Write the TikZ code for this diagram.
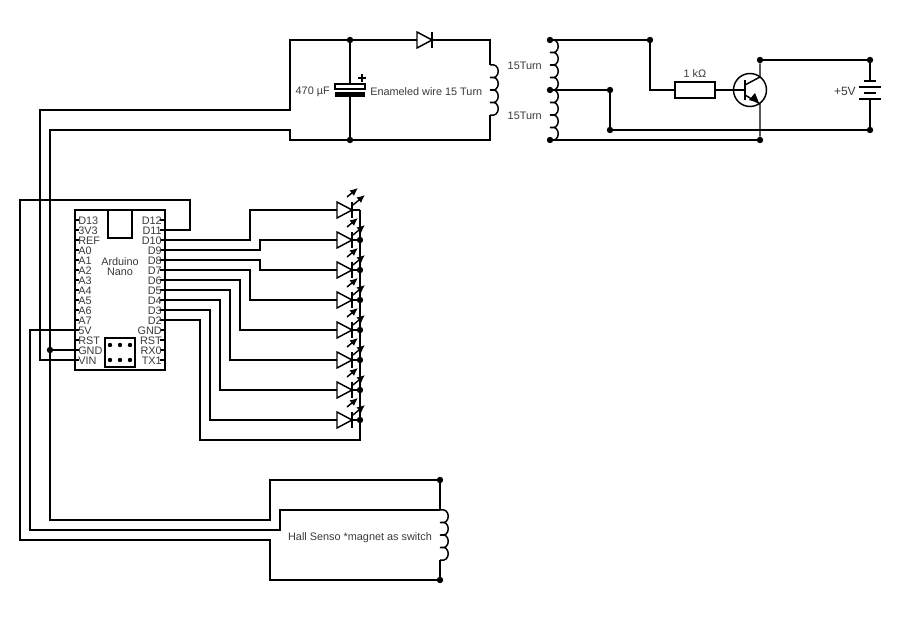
\documentclass[tikz,border=0pt]{standalone}
\usepackage{fontspec}
\setmainfont{Liberation Sans}
\usetikzlibrary{arrows.meta}
\colorlet{fg}{black}
\colorlet{bg}{white}
\definecolor{lbl}{HTML}{3A3A3A}
\tikzset{
	wire/.style={draw=fg,line width=1.1pt,line join=miter},
	dot/.style={circle,fill=fg,inner sep=0pt,minimum size=4.8pt},
	lbl/.style={text=lbl,font=\fontsize{8.15pt}{7.5pt}\selectfont,inner sep=0pt,yshift=-0.9pt},
	coil/.pic={
		\draw[wire] (0,0) .. controls (11,-3) and (11,15.5) .. (0,12.5)
			.. controls (11,9.5) and (11,28) .. (0,25)
			.. controls (11,22) and (11,40.5) .. (0,37.5)
			.. controls (11,34.5) and (11,53) .. (0,50);
	},
	ledsym/.pic={
		\draw[wire,fill=bg] (-15,-8) -- (0,0) -- (-15,8) -- cycle;
		\draw[wire] (0,-8) -- (0,8);
		\draw[wire,-{Latex[length=6pt,width=5.5pt]}] (-5,-13) -- (6,-22);
		\draw[wire,-{Latex[length=6pt,width=5.5pt]}] (1,-5) -- (13,-15);
	}
}

\begin{document}
\begin{tikzpicture}[x=0.75pt,y=-0.75pt]
	\useasboundingbox (0,0) rectangle (900,620);

	% nano board
	\draw[wire] (75,210) rectangle (165,370);
	\draw[wire] (108,210) rectangle (132,238);
	\draw[wire] (105,338) rectangle (135,367);
	\foreach \px in {110,120,130} {
		\fill[fg] (\px,345) circle[radius=2.2];
		\fill[fg] (\px,360) circle[radius=2.2];
	}
	\node[lbl,align=center] (nano) at (120,265) {Arduino\\Nano};
	\foreach \pin [count=\i from 1] in {D13,3V3,REF,A0,A1,A2,A3,A4,A5,A6,A7,5V,RST,GND,VIN} {
		\coordinate (L\pin) at (75,{210+10*\i});
		\draw[wire] (L\pin) -- ++(4,0);
		\node[lbl,anchor=west] (lbl-L\pin) at (78,{210+10*\i}) {\pin};
	}
	\foreach \pin [count=\i from 1] in {D12,D11,D10,D9,D8,D7,D6,D5,D4,D3,D2,GND,RST,RX0,TX1} {
		\coordinate (R\pin) at (165,{210+10*\i});
		\draw[wire] (R\pin) -- ++(-5,0);
		\node[lbl,anchor=east] (lbl-R\pin) at (162,{210+10*\i}) {\pin};
	}

	% leds
	\foreach \i/\ly in {1/210,2/240,3/270,4/300,5/330,6/360,7/390,8/420} {
		\coordinate (led\i) at (337,\ly);
		\coordinate (bar\i) at (352,\ly);
		\pic at (bar\i) {ledsym};
	}
	\coordinate (rail1) at (360,210);
	\foreach \i/\ly in {2/240,3/270,4/300,5/330,6/360,7/390,8/420} {
		\node[dot] (rail\i) at (360,\ly) {};
		\draw[wire] (bar\i) -- (rail\i);
	}
	\draw[wire] (bar1) -- (rail1);
	\coordinate (railend) at (360,440);
	\draw[wire] (rail1) -- (railend) -- (200,440) -- (200,320) -- (RD2);
	\draw[wire] (RD10) -- (250,240) -- (250,210) -- (led1);
	\draw[wire] (RD9) -- (260,250) -- (260,240) -- (led2);
	\draw[wire] (RD8) -- (260,260) -- (260,270) -- (led3);
	\draw[wire] (RD7) -- (250,270) -- (250,300) -- (led4);
	\draw[wire] (RD6) -- (240,280) -- (240,330) -- (led5);
	\draw[wire] (RD5) -- (230,290) -- (230,360) -- (led6);
	\draw[wire] (RD4) -- (220,300) -- (220,390) -- (led7);
	\draw[wire] (RD3) -- (210,310) -- (210,420) -- (led8);

	% top circuit
	\node[dot] (captop) at (350,40) {};
	\node[dot] (capbot) at (350,140) {};
	\coordinate (dioa) at (417,40);
	\coordinate (diok) at (432,40);
	\coordinate (ctop) at (490,65);
	\coordinate (cbot) at (490,115);
	\draw[wire] (dioa) -- (captop) -- (290,40) -- (290,110) -- (40,110) -- (40,360) -- (LVIN);
	\draw[wire] (diok) -- (490,40) -- (ctop);
	\draw[wire] (cbot) -- (490,140) -- (capbot);
	\draw[wire] (capbot) -- (290,140) -- (290,130) -- (50,130) -- (50,520) -- (270,520) -- (270,480) -- (440,480);
	\draw[wire] (417,32) -- (432,40) -- (417,48) -- cycle;
	\draw[wire] (432,32) -- (432,48);
	\pic at (ctop) {coil};
	\draw[wire] (captop) -- (350,84);
	\draw[wire] (capbot) -- (350,92);
	\draw[wire] (335,84) rectangle (365,89);
	\fill[fg] (335,92) rectangle (365,97);
	\draw[wire] (358,78) -- (366,78) (362,74) -- (362,82);
	\node[lbl,anchor=east] (caplbl) at (330,91) {470 µF};
	\node[lbl,anchor=west] (wirelbl) at (370,90) {Enameled wire 15 Turn};

	% centre tapped coil
	\node[dot] (tapa) at (550,40) {};
	\node[dot] (tapb) at (550,90) {};
	\node[dot] (tapc) at (550,140) {};
	\pic at (tapa) {coil};
	\pic at (tapb) {coil};
	\node[lbl,anchor=east] (turna) at (542,65) {15Turn};
	\node[lbl,anchor=east] (turnb) at (542,115) {15Turn};
	\node[dot] (j1) at (650,40) {};
	\node[dot] (j2) at (610,90) {};
	\node[dot] (j3) at (610,130) {};
	\node[dot] (j4) at (760,140) {};
	\node[dot] (j5) at (760,60) {};
	\node[dot] (j6) at (870,60) {};
	\node[dot] (j7) at (870,130) {};
	\coordinate (resl) at (675,90);
	\coordinate (resr) at (715,90);
	\coordinate (base) at (745,90);
	\draw[wire] (tapa) -- (j1) -- (650,90) -- (resl);
	\draw[wire] (675,82) rectangle (715,98);
	\node[lbl] (reslbl) at (695,72) {1 kΩ};
	\draw[wire] (resr) -- (base);
	\draw[wire] (tapb) -- (j2) -- (j3) -- (j7);
	\draw[wire] (tapc) -- (j4);

	% transistor
	\draw[wire] (750,90) circle[radius=16.5];
	\draw[wire] (745,80) -- (745,100);
	\draw[wire] (j5.south) -- (760,77) -- (745,85);
	\draw[wire] (j4.north) -- (760,104) -- (745,95);
	\fill[fg] (759,103) -- (749,100) -- (755,93) -- cycle;

	% battery
	\draw[wire] (j6) -- (870,81);
	\draw[wire] (864,81) -- (876,81);
	\draw[wire] (859,87) -- (881,87);
	\draw[wire] (864,93) -- (876,93);
	\draw[wire] (859,99) -- (881,99);
	\draw[wire] (870,99) -- (j7);
	\draw[wire] (j5) -- (j6);
	\node[lbl,anchor=east,font=\fontsize{9pt}{10pt}\selectfont] (batlbl) at (856,90) {+5V};

	% hall sensor
	\node[dot] (halltop) at (440,480) {};
	\node[dot] (hallbot) at (440,580) {};
	\coordinate (hallc) at (440,510);
	\coordinate (halld) at (440,560);
	\pic at (hallc) {coil};
	\draw[wire] (halltop) -- (hallc);
	\draw[wire] (halld) -- (hallbot);
	\draw[wire] (hallc) -- (280,510) -- (280,530) -- (30,530) -- (30,330) -- (L5V);
	\draw[wire] (hallbot) -- (270,580) -- (270,540) -- (20,540) -- (20,200) -- (190,200) -- (190,230) -- (RD11);
	\node[lbl] (halllbl) at (360,536) {Hall Senso *magnet as switch};

	% ground tap
	\node[dot] (gndtap) at (50,350) {};
	\draw[wire] (gndtap) -- (LGND);
\end{tikzpicture}
\end{document}
